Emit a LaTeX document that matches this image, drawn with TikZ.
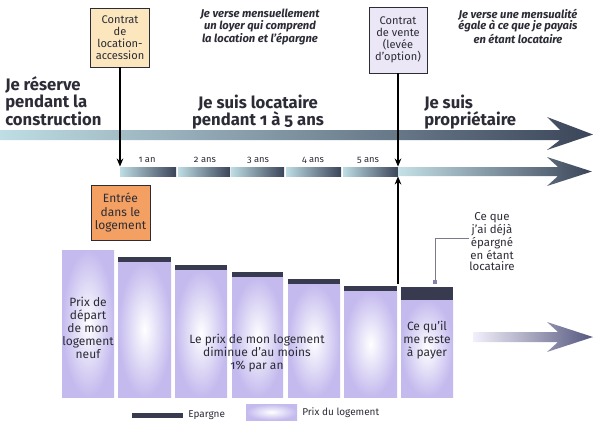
\documentclass[tikz,border=0pt]{standalone}
\usepackage{fontspec}
\setmainfont{Fira Sans}[Numbers=OldStyle]
\usetikzlibrary{arrows.meta,calc}
\definecolor{txtc}{HTML}{2B2C36}
\definecolor{darkband}{HTML}{383A50}
\definecolor{barc}{HTML}{C4BAEE}
\definecolor{locfill}{HTML}{FBE6BE}
\definecolor{ventefill}{HTML}{ECE7F6}
\definecolor{entreefill}{HTML}{F4A062}
\definecolor{tealL}{HTML}{BEDDE4}
\definecolor{tealM}{HTML}{7394A6}
\definecolor{slateD}{HTML}{3B4559}
\definecolor{purL}{HTML}{F2F0FB}
\definecolor{purM}{HTML}{A9A3D8}
\definecolor{purD}{HTML}{55577F}
\definecolor{connc}{HTML}{7A7A88}
\begin{document}
\begin{tikzpicture}[x=0.75pt,y=-0.75pt,
  txt/.style={align=center,inner sep=0pt,text=txtc},
  bigtxt/.style={inner sep=0pt,text=txtc,font=\fontsize{12.5}{13}\selectfont\bfseries},
  topit/.style={txt,font=\fontsize{8.4}{8.8}\selectfont\bfseries\itshape},
  boxnode/.style={draw=txtc,line width=0.7pt,align=center,inner sep=1pt,text=txtc,font=\fontsize{8.3}{9}\selectfont},
  yearlbl/.style={txt,font=\fontsize{7}{8}\selectfont},
  bartxt/.style={txt,font=\fontsize{9}{9.8}\selectfont},
  conn/.style={line width=0.8pt,draw=black},
  tip/.style={-{Stealth[length=6pt,width=5pt]}}
]
\useasboundingbox (0,0) rectangle (600,429);

% big arrow
\shade[left color=tealL,middle color=tealM,right color=slateD]
  (0,130) -- (560,130) -- (547,117) -- (593,134.5) -- (547,150) -- (560,140) -- (0,140) -- cycle;

% small time bar segments
\foreach \a/\b in {120/176,178/230,231/284,286/341,343/398}{
  \shade[left color=tealL,right color=slateD] (\a,167) rectangle (\b,176);
}
\shade[left color=tealL!90!white,middle color=tealM,right color=slateD]
  (398,167) -- (558,167) -- (547,157) -- (592,171.5) -- (547,186) -- (558,176) -- (398,176) -- cycle;

% purple arrow
\shade[left color=purL,middle color=purM,right color=purD]
  (473,332) -- (558,332) -- (547,322) -- (593,337) -- (547,352) -- (558,342) -- (473,342) -- cycle;

% bars
\shade[inner color=white,outer color=barc] (62,250) rectangle (114,397);
\foreach \a/\b/\t/\bb in {118/171/257/262,175/227/265/270,232/283/272/277,288/340/279/284,344/397/286/291,401/453/287/300}{
  \shade[inner color=white,outer color=barc] (\a,\bb) rectangle (\b,397);
  \fill[darkband] (\a,\t) rectangle (\b,\bb);
}

% legend
\fill[darkband] (132,413) rectangle (183,418);
\node[txt,anchor=west,font=\fontsize{7.5}{8}\selectfont] (legE) at (188,415.5) {Epargne};
\shade[inner color=white,outer color=barc] (246,404) rectangle (297,420);
\node[txt,anchor=west,font=\fontsize{7.5}{8}\selectfont] (legP) at (302,413) {Prix du logement};

% boxes
\node[boxnode,fill=locfill,minimum width=44.25pt,minimum height=44.25pt] (loc) at (120,37.5)
  {Contrat\\de\\location-\\accession};
\node[boxnode,fill=ventefill,minimum width=43.5pt,minimum height=49.5pt] (vente) at (398,40)
  {Contrat\\de vente\\(levée\\d'option)};
\node[boxnode,fill=entreefill,minimum width=44.25pt,minimum height=41.25pt,font=\fontsize{9}{9.8}\selectfont] (entree) at (120.5,212.5)
  {Entrée\\dans le\\logement};

% top texts
\node[topit] (t1) at (260,27) {Je verse mensuellement\\un loyer qui comprend\\la location et l'épargne};
\node[topit] (t2) at (518,26) {Je verse une mensualité\\égale à ce que je payais\\en étant locataire};

% big texts
\node[bigtxt,align=left,anchor=west] (b1) at (5,101) {Je réserve\\pendant la\\construction};
\node[bigtxt,align=center] (b2) at (258,112) {Je suis locataire\\pendant 1 à 5 ans};
\node[bigtxt,align=left,anchor=west] (b3) at (424,112) {Je suis\\propriétaire};

% year labels
\node[yearlbl] (y1) at (147,160) {1 an};
\node[yearlbl] (y2) at (205,160) {2 ans};
\node[yearlbl] (y3) at (258,160) {3 ans};
\node[yearlbl] (y4) at (313,160) {4 ans};
\node[yearlbl] (y5) at (368,160) {5 ans};

% bar texts
\node[bartxt] (p1) at (88,328) {Prix de\\départ\\de mon\\logement\\neuf};
\node[bartxt] (p2) at (257,353) {Le prix de mon logement\\diminue d'au moins\\1\% par an};
\node[bartxt] (p3) at (427,340) {Ce qu'il\\me reste\\à payer};
\node[txt,font=\fontsize{8.6}{8.3}\selectfont] (epa) at (492,242) {Ce que\\j'ai déjà\\épargné\\en étant\\locataire};

% connectors
\coordinate (s0) at (120,166.5);
\draw[conn,tip] (loc.south) -- (loc.south |- s0);
\coordinate (optTop) at (398,166.5);
\coordinate (optBot) at (398,176.5);
\coordinate (gap) at (398,284);
\draw[conn,tip] (vente.south) -- (vente.south |- optTop);
\draw[conn,tip] (gap) -- (optBot);
\coordinate (dot) at (435,282);
\draw[connc,line width=0.5pt] (epa.west |- 0,238) -- (dot |- 0,238) -- (dot);
\fill[purM!80!black] ($(dot)+(-1.6,-1.6)$) rectangle ($(dot)+(1.6,1.6)$);
\end{tikzpicture}
\end{document}
